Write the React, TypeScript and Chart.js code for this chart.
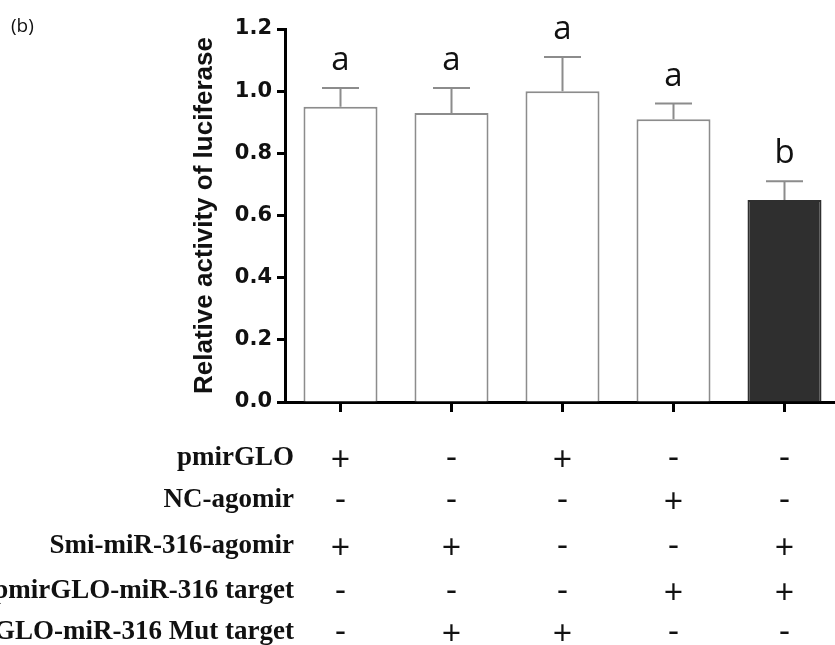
import React, { useEffect, useRef } from 'react';
import { Chart, registerables } from 'chart.js';

Chart.register(...registerables);

const groups = ['G1', 'G2', 'G3', 'G4', 'G5'];
const means = [0.95, 0.93, 1.0, 0.91, 0.65];
const errors = [0.06, 0.08, 0.11, 0.05, 0.06];
const letters = ['a', 'a', 'a', 'a', 'b'];
const barFills = ['#ffffff', '#ffffff', '#ffffff', '#ffffff', '#2f2f2f'];
const barEdges = ['#8c8c8c', '#8c8c8c', '#8c8c8c', '#8c8c8c', '#2f2f2f'];
const yTickValues = [0, 0.2, 0.4, 0.6, 0.8, 1.0, 1.2];
const rowLabels = [
  'pmirGLO',
  'NC-agomir',
  'Smi-miR-316-agomir',
  'pmirGLO-miR-316 target',
  'pmirGLO-miR-316 Mut target',
];
const rowSigns = [
  ['+', '-', '+', '-', '-'],
  ['-', '-', '-', '+', '-'],
  ['+', '+', '-', '-', '+'],
  ['-', '-', '-', '+', '+'],
  ['-', '+', '+', '-', '-'],
];
const yTitle = 'Relative activity of luciferase';
const panelLabel = '(b)';

const ROW_Y = [458, 500, 546, 591, 632];

const overlayPlugin = {
  id: 'overlay',
  afterDatasetsDraw(chart: any) {
    const { ctx, scales } = chart;
    const xs = scales.x;
    const ys = scales.y;
    ctx.save();
    // error bars
    ctx.strokeStyle = '#8c8c8c';
    ctx.lineWidth = 2;
    for (let i = 0; i < means.length; i++) {
      const x = xs.getPixelForValue(i);
      const yb = ys.getPixelForValue(means[i]);
      const yt = ys.getPixelForValue(means[i] + errors[i]);
      ctx.beginPath();
      ctx.moveTo(x, yb);
      ctx.lineTo(x, yt);
      ctx.moveTo(x - 18.5, yt);
      ctx.lineTo(x + 18.5, yt);
      ctx.stroke();
      // significance letter
      ctx.fillStyle = '#111';
      ctx.font = '33px "Open Sans", sans-serif';
      ctx.textAlign = 'center';
      ctx.textBaseline = 'alphabetic';
      ctx.fillText(letters[i], x, yt - 18);
    }
    ctx.restore();
  },
  afterDraw(chart: any) {
    const { ctx, scales } = chart;
    const xs = scales.x;
    ctx.save();
    ctx.fillStyle = '#111';
    // panel label
    ctx.font = '19px "Open Sans", sans-serif';
    ctx.textAlign = 'left';
    ctx.textBaseline = 'alphabetic';
    ctx.fillText(panelLabel, 11, 32);
    // table
    for (let r = 0; r < rowLabels.length; r++) {
      const y = ROW_Y[r];
      ctx.font = 'bold 27px "Liberation Serif", "Times New Roman", serif';
      ctx.textAlign = 'right';
      ctx.textBaseline = 'alphabetic';
      ctx.fillText(rowLabels[r], 294, y + 7);
      ctx.font = '34px "Open Sans", sans-serif';
      ctx.textAlign = 'center';
      for (let c = 0; c < groups.length; c++) {
        const s = rowSigns[r][c];
        const m = ctx.measureText(s);
        const off = (m.actualBoundingBoxAscent - m.actualBoundingBoxDescent) / 2;
        ctx.fillText(s, xs.getPixelForValue(c), y + off);
      }
    }
    ctx.restore();
  },
};

export default function App() {
  const ref = useRef<HTMLCanvasElement | null>(null);
  useEffect(() => {
    if (!ref.current) return;
    const chart = new Chart(ref.current, {
      type: 'bar',
      data: {
        labels: groups,
        datasets: [
          {
            data: means,
            backgroundColor: barFills,
            borderColor: barEdges,
            borderWidth: 2,
            barPercentage: 0.667,
            categoryPercentage: 1,
          },
        ],
      },
      options: {
        responsive: false,
        animation: false,
        layout: { padding: { top: 29, bottom: 233, left: 0, right: 0 } },
        plugins: { legend: { display: false }, tooltip: { enabled: false } },
        scales: {
          x: {
            grid: {
              display: true,
              offset: false,
              drawOnChartArea: false,
              drawTicks: true,
              tickLength: 10,
              tickWidth: 3,
              color: '#000',
            },
            border: { display: true, color: '#000', width: 3 },
            ticks: { display: false },
          },
          y: {
            min: 0,
            max: 1.2,
            afterBuildTicks: (scale: any) => {
              scale.ticks = yTickValues.map((v) => ({ value: v }));
            },
            afterFit: (scale: any) => {
              scale.width = 285;
            },
            grid: {
              display: true,
              drawOnChartArea: false,
              drawTicks: true,
              tickLength: 8,
              tickWidth: 3,
              color: '#000',
            },
            border: { display: true, color: '#000', width: 3 },
            ticks: {
              padding: 5,
              color: '#111',
              font: { family: '"DejaVu Sans", sans-serif', weight: 'bold', size: 21 },
              callback: (v: any) => Number(v).toFixed(1),
            },
            title: {
              display: true,
              text: yTitle,
              color: '#111',
              font: { family: '"Liberation Sans", Arial, sans-serif', weight: 'bold', size: 26 },
              padding: { top: 189, bottom: 0 },
            },
          },
        },
      },
      plugins: [overlayPlugin],
    });
    return () => chart.destroy();
  }, []);
  return (
    <div
      style={{
        position: 'absolute',
        left: 0,
        top: 0,
        width: 835,
        height: 645,
        overflow: 'hidden',
        background: '#fff',
      }}
    >
      <canvas ref={ref} width={840} height={645} style={{ display: 'block', width: 840, height: 645 }} />
    </div>
  );
}
